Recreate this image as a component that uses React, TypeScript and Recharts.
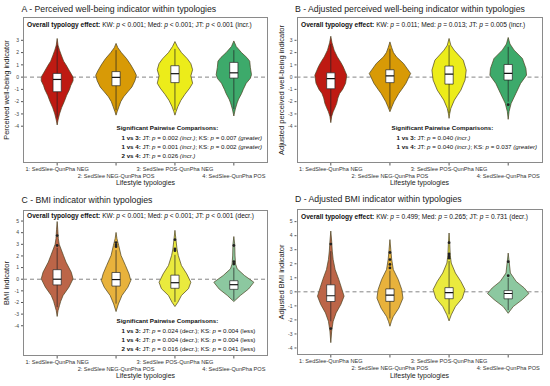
import React from 'react';
import { ComposedChart, Scatter, XAxis, YAxis, ReferenceLine } from 'recharts';

const FONT = '"Liberation Sans", Arial, sans-serif';
const CATS = [1, 2, 3, 4];
const TICK_LABELS = [
  '1: SedSlee-QunPha NEG',
  '2: SedSlee NEG-QunPha POS',
  '3: SedSlee POS-QunPha NEG',
  '4: SedSlee-QunPha POS',
];
const X_DOMAIN: [number, number] = [0.42, 4.58];
const BOX_HALF = 0.07;

const PAL_AB = ['#BE1A12', '#D89A06', '#ECEC1A', '#3DAA6B'];
const PAL_CD = ['#BC6548', '#E8B23C', '#EAEA3E', '#8CC8A0'];

// violin outlines: [value, half width in category units], top -> bottom
const vA1 = [[3.15, 0], [2.6, 0.015], [2.2, 0.04], [1.8, 0.07], [1.3, 0.11], [1, 0.15], [0.5, 0.21], [0, 0.27], [-0.3, 0.27], [-0.7, 0.23], [-1, 0.21], [-1.5, 0.16], [-2, 0.12], [-2.5, 0.075], [-3, 0.04], [-3.5, 0.015], [-3.9, 0]];
const vA2 = [[2.75, 0], [2.4, 0.03], [2.0, 0.09], [1.5, 0.18], [1.0, 0.25], [0.5, 0.31], [0.15, 0.345], [-0.3, 0.32], [-0.8, 0.27], [-1.2, 0.2], [-1.6, 0.13], [-2.0, 0.08], [-2.4, 0.05], [-2.8, 0.02], [-3.1, 0]];
const vA3 = [[2.9, 0], [2.5, 0.04], [2.0, 0.11], [1.5, 0.21], [1.1, 0.27], [0.6, 0.3], [0.1, 0.27], [-0.5, 0.3], [-0.9, 0.25], [-1.4, 0.17], [-1.9, 0.1], [-2.4, 0.05], [-2.8, 0.02], [-3.1, 0]];
const vA4 = [[2.95, 0], [2.5, 0.04], [2.0, 0.13], [1.6, 0.22], [1.3, 0.27], [0.8, 0.28], [0.2, 0.3], [-0.1, 0.28], [-0.5, 0.21], [-1, 0.16], [-1.35, 0.13], [-1.8, 0.08], [-2.1, 0.056], [-2.6, 0.025], [-3.17, 0]];

const vB1 = [[3.33, 0], [2.8, 0.02], [2.2, 0.056], [1.65, 0.11], [1.2, 0.17], [0.84, 0.21], [0.16, 0.27], [-0.5, 0.25], [-1.0, 0.2], [-1.33, 0.15], [-1.7, 0.12], [-2.14, 0.1], [-2.5, 0.07], [-2.82, 0.04], [-3.2, 0.015], [-3.71, 0]];
const vB2 = [[2.87, 0], [2.4, 0.03], [2.0, 0.06], [1.65, 0.11], [1.11, 0.23], [0.3, 0.35], [-0.51, 0.27], [-1.0, 0.2], [-1.33, 0.15], [-2.0, 0.07], [-2.4, 0.035], [-2.82, 0]];
const vB3 = [[3.15, 0], [2.6, 0.03], [2.2, 0.085], [1.8, 0.16], [1.38, 0.24], [0.57, 0.29], [-0.24, 0.27], [-1.06, 0.2], [-1.5, 0.14], [-1.87, 0.09], [-2.55, 0.03], [-3.0, 0.01], [-3.36, 0]];
const vB4 = [[3.23, 0], [2.7, 0.03], [2.2, 0.1], [1.52, 0.24], [0.7, 0.3], [0.16, 0.31], [-0.51, 0.21], [-1.33, 0.13], [-2.14, 0.05], [-2.8, 0.015], [-3.44, 0]];

const vC1 = [[4.96, 0], [4.3, 0.01], [3.5, 0.02], [3, 0.035], [2.6, 0.065], [2.04, 0.107], [1.47, 0.15], [0.6, 0.24], [0.03, 0.27], [-0.68, 0.2], [-1.4, 0.1], [-1.9, 0.06], [-2.26, 0.04], [-2.7, 0.015], [-3.2, 0]];
const vC2 = [[4.02, 0], [3.5, 0.015], [2.9, 0.045], [2.04, 0.085], [1.18, 0.16], [0.46, 0.22], [-0.11, 0.25], [-0.69, 0.2], [-1.4, 0.1], [-2.13, 0.04], [-2.78, 0]];
const vC3 = [[4.2, 0], [3.5, 0.015], [2.6, 0.035], [2.04, 0.057], [1.18, 0.11], [0.46, 0.2], [-0.26, 0.27], [-0.81, 0.23], [-1.4, 0.11], [-1.98, 0.05], [-2.35, 0]];
const vC4 = [[3.67, 0], [3.0, 0.015], [2.0, 0.02], [1.3, 0.03], [0.89, 0.057], [0.32, 0.18], [-0.26, 0.34], [-0.84, 0.25], [-1.4, 0.11], [-1.78, 0.03], [-1.92, 0]];

const vD1 = [[4.33, 0], [3.6, 0.015], [2.9, 0.025], [2.3, 0.04], [1.59, 0.073], [0.88, 0.135], [0.29, 0.18], [-0.31, 0.225], [-0.9, 0.17], [-1.5, 0.09], [-2.1, 0.04], [-2.8, 0.015], [-3.62, 0]];
const vD2 = [[3.72, 0], [3.0, 0.015], [2.3, 0.03], [1.59, 0.057], [0.88, 0.14], [0.16, 0.2], [-0.45, 0.22], [-1.16, 0.15], [-1.76, 0.057], [-2.1, 0.025], [-2.45, 0]];
const vD3 = [[4.19, 0], [3.4, 0.012], [2.6, 0.02], [2.05, 0.037], [1.34, 0.107], [0.74, 0.2], [0.16, 0.27], [-0.45, 0.225], [-1.05, 0.107], [-1.64, 0.037], [-2.07, 0]];
const vD4 = [[2.76, 0], [2.2, 0.015], [1.34, 0.037], [0.74, 0.135], [0.28, 0.27], [-0.12, 0.35], [-0.55, 0.24], [-1.05, 0.085], [-1.3, 0.04], [-1.53, 0]];

// boxes: [q1, median, q3, whisker low, whisker high]
const boxesA = [[-1.19, -0.19, 0.3, -3.3, 2.6], [-0.7, -0.02, 0.45, -2.7, 2.2], [-0.45, 0.28, 0.93, -2.7, 2.3], [-0.08, 0.35, 1.2, -2.6, 2.2]];
const boxesB = [[-0.95, -0.13, 0.35, -3.2, 2.7], [-0.45, 0.1, 0.6, -2.55, 2.3], [-0.57, 0.24, 0.9, -2.95, 2.6], [-0.24, 0.3, 1.03, -2.0, 2.47]];
const boxesC = [[-0.49, 0, 0.82, -2.4, 2.7], [-0.59, -0.03, 0.58, -2.1, 2.5], [-0.78, -0.3, 0.35, -1.95, 2.1], [-0.87, -0.47, -0.13, -1.8, 1.0]];
const boxesD = [[-0.69, -0.28, 0.5, -2.1, 2.9], [-0.68, -0.24, 0.21, -1.9, 1.5], [-0.49, -0.05, 0.3, -1.6, 2.2], [-0.5, -0.12, 0.09, -1.3, 1.0]];

// outliers: [category, value]
const outA: number[][] = [];
const outB = [[4, -2.25]];
const outC = [[1, 3.75], [1, 2.9], [2, 3.15], [2, 2.95], [2, 2.8], [3, 3.4], [3, 2.6], [3, 2.45], [4, 2.9], [4, 1.5], [4, 1.3]];
const outD = [[1, 3.4], [1, -2.62], [2, 2.8], [2, 2.3], [2, 1.95], [2, 1.7], [3, 3.5], [3, 2.7], [3, 2.55], [3, 2.4], [4, 2.15], [4, 1.15]];

const noShape = () => <g />;

function violinPts(pos: number, prof: number[][]) {
  const right = prof.map(([v, w]) => ({ x: pos + w, y: v }));
  const left = prof.slice().reverse().map(([v, w]) => ({ x: pos - w, y: v }));
  return [...right, ...left];
}

function boxPts(pos: number, q1: number, q3: number) {
  return [
    { x: pos - BOX_HALF, y: q3 },
    { x: pos + BOX_HALF, y: q3 },
    { x: pos + BOX_HALF, y: q1 },
    { x: pos - BOX_HALF, y: q1 },
    { x: pos - BOX_HALF, y: q3 },
  ];
}

function renderXTick(props: any) {
  const { x, y, payload } = props;
  const i = payload.value - 1;
  return (
    <text
      x={x}
      y={y + (i % 2 === 0 ? 3.5 : 10.5)}
      textAnchor="middle"
      fontSize={5.6}
      fontFamily={FONT}
      fill="#333"
    >
      {TICK_LABELS[i]}
    </text>
  );
}

interface PanelProps {
  left: number;
  top: number;
  plot: { l: number; r: number; t: number; b: number };
  title: string;
  titleY: number;
  yLabel: string;
  domain: [number, number];
  yTicks: number[];
  violins: number[][][];
  boxes: number[][];
  outliers: number[][];
  palette: string[];
  overall: React.ReactNode;
  overallY: number;
  overallX: number;
  pairs: React.ReactNode[];
}

function Panel(p: PanelProps) {
  const { l, r, t, b } = p.plot;
  return (
    <div style={{ position: 'absolute', left: p.left, top: p.top, width: 275, height: 193 }}>
      <ComposedChart width={275} height={193} margin={{ top: t, right: 275 - r, bottom: 0, left: 0 }}>
        <XAxis
          type="number"
          dataKey="x"
          domain={X_DOMAIN}
          ticks={CATS}
          interval={0}
          allowDataOverflow
          height={193 - b}
          axisLine={false}
          tickSize={2.5}
          tickLine={{ stroke: '#555' }}
          tick={renderXTick}
        />
        <YAxis
          type="number"
          dataKey="y"
          domain={p.domain}
          ticks={p.yTicks}
          interval={0}
          allowDataOverflow
          width={l}
          axisLine={false}
          tickSize={2}
          tickLine={{ stroke: '#555' }}
          tick={{ fontSize: 5, fill: '#444', fontFamily: FONT }}
        />
        <ReferenceLine y={0} stroke="#777" strokeDasharray="4 3" strokeWidth={0.9} />
        {p.violins.map((prof, i) => (
          <Scatter
            key={'v' + i}
            data={violinPts(CATS[i], prof)}
            dataKey="y"
            shape={noShape}
            line={{ fill: p.palette[i], stroke: '#4a4020', strokeWidth: 0.7 }}
            lineJointType="linear"
            isAnimationActive={false}
          />
        ))}
        {p.boxes.map((bx, i) => (
          <Scatter
            key={'w' + i}
            data={[{ x: CATS[i], y: bx[4] }, { x: CATS[i], y: bx[3] }]}
            dataKey="y"
            shape={noShape}
            line={{ stroke: '#222', strokeWidth: 0.7 }}
            isAnimationActive={false}
          />
        ))}
        {p.boxes.map((bx, i) => (
          <Scatter
            key={'b' + i}
            data={boxPts(CATS[i], bx[0], bx[2])}
            dataKey="y"
            shape={noShape}
            line={{ fill: '#fff', stroke: '#222', strokeWidth: 0.7 }}
            isAnimationActive={false}
          />
        ))}
        {p.boxes.map((bx, i) => (
          <Scatter
            key={'m' + i}
            data={[{ x: CATS[i] - BOX_HALF, y: bx[1] }, { x: CATS[i] + BOX_HALF, y: bx[1] }]}
            dataKey="y"
            shape={noShape}
            line={{ stroke: '#111', strokeWidth: 1.2 }}
            isAnimationActive={false}
          />
        ))}
        <Scatter
          data={p.outliers.map(([c, v]) => ({ x: c, y: v }))}
          dataKey="y"
          fill="#222"
          shape={(s: any) => <circle cx={s.cx} cy={s.cy} r={1.4} fill="#222" />}
          isAnimationActive={false}
        />
      </ComposedChart>
      <div
        style={{
          position: 'absolute',
          left: l,
          top: t,
          width: r - l,
          height: b - t,
          border: '1px solid #8a8a8a',
          boxSizing: 'border-box',
          pointerEvents: 'none',
        }}
      />
      <div
        style={{
          position: 'absolute',
          left: l - 1.5,
          top: p.titleY - 6,
          height: 12,
          lineHeight: '12px',
          fontSize: 8.7,
          fontFamily: FONT,
          color: '#222',
          whiteSpace: 'nowrap',
        }}
      >
        {p.title}
      </div>
      <div
        style={{
          position: 'absolute',
          left: p.overallX,
          top: p.overallY - 4.5,
          lineHeight: '9px',
          fontSize: 6.6,
          fontFamily: FONT,
          color: '#111',
          whiteSpace: 'nowrap',
        }}
      >
        {p.overall}
      </div>
      {p.pairs.length > 0 && (
        <div
          style={{
            position: 'absolute',
            left: 116.5,
            top: 128 - 4.65,
            lineHeight: '9.3px',
            fontSize: 6.2,
            fontFamily: FONT,
            color: '#111',
            whiteSpace: 'nowrap',
          }}
        >
          <div style={{ fontWeight: 700 }}>Significant Pairwise Comparisons:</div>
          {p.pairs.map((row, i) => (
            <div key={i} style={{ marginLeft: 5 }}>
              {row}
            </div>
          ))}
        </div>
      )}
      <div
        style={{
          position: 'absolute',
          left: 7 - 100,
          top: (t + b) / 2 - 5,
          width: 200,
          height: 10,
          lineHeight: '10px',
          textAlign: 'center',
          transform: 'rotate(-90deg)',
          fontSize: 7.5,
          fontFamily: FONT,
          color: '#222',
          whiteSpace: 'nowrap',
        }}
      >
        {p.yLabel}
      </div>
      <div
        style={{
          position: 'absolute',
          left: (l + r) / 2 - 60,
          top: 183 - 5,
          width: 120,
          lineHeight: '10px',
          textAlign: 'center',
          fontSize: 7,
          fontFamily: FONT,
          color: '#222',
        }}
      >
        Lifestyle typologies
      </div>
    </div>
  );
}

const ip = <i>p</i>;

export default function App() {
  return (
    <div style={{ position: 'absolute', left: 0, top: 0, width: 550, height: 386, background: '#fff', overflow: 'hidden' }}>
      <Panel
        left={0}
        top={0}
        plot={{ l: 23, r: 268, t: 17, b: 163 }}
        title="A - Perceived well-being indicator within typologies"
        titleY={8.5}
        yLabel="Perceived well-being indicator"
        domain={[-7, 4.9]}
        yTicks={[-4, -3, -2, -1, 0, 1, 2, 3]}
        violins={[vA1, vA2, vA3, vA4]}
        boxes={boxesA}
        outliers={outA}
        palette={PAL_AB}
        overallX={27}
        overallY={24.5}
        overall={<><b>Overall typology effect:</b> KW: {ip} &lt; 0.001; Med: {ip} &lt; 0.001; JT: {ip} &lt; 0.001 (incr.)</>}
        pairs={[
          <><b>1 vs 3:</b> JT: {ip} = 0.002 <i>(incr.)</i>; KS: {ip} = 0.007 <i>(greater)</i></>,
          <><b>1 vs 4:</b> JT: {ip} = 0.001 <i>(incr.)</i>; KS: {ip} = 0.002 <i>(greater)</i></>,
          <><b>2 vs 4:</b> JT: {ip} = 0.026 <i>(incr.)</i></>,
        ]}
      />
      <Panel
        left={275}
        top={0}
        plot={{ l: 21.5, r: 267.5, t: 17, b: 163 }}
        title="B - Adjusted perceived well-being indicator within typologies"
        titleY={8.5}
        yLabel="Adjusted perceived well-being indicator"
        domain={[-7, 4.9]}
        yTicks={[-4, -3, -2, -1, 0, 1, 2, 3]}
        violins={[vB1, vB2, vB3, vB4]}
        boxes={boxesB}
        outliers={outB}
        palette={PAL_AB}
        overallX={26}
        overallY={24}
        overall={<><b>Overall typology effect:</b> KW: {ip} = 0.011; Med: {ip} = 0.013; JT: {ip} = 0.005 (incr.)</>}
        pairs={[
          <><b>1 vs 3:</b> JT: {ip} = 0.040 <i>(incr.)</i></>,
          <><b>1 vs 4:</b> JT: {ip} = 0.040 <i>(incr.)</i>; KS: {ip} = 0.037 <i>(greater)</i></>,
        ]}
      />
      <Panel
        left={0}
        top={193}
        plot={{ l: 23, r: 268, t: 17, b: 163 }}
        title="C - BMI indicator within typologies"
        titleY={6.7}
        yLabel="BMI indicator"
        domain={[-6.6, 5.95]}
        yTicks={[-4, -3, -2, -1, 0, 1, 2, 3, 4, 5]}
        violins={[vC1, vC2, vC3, vC4]}
        boxes={boxesC}
        outliers={outC}
        palette={PAL_CD}
        overallX={27}
        overallY={22.7}
        overall={<><b>Overall typology effect:</b> KW: {ip} &lt; 0.001; Med: {ip} &lt; 0.001; JT: {ip} &lt; 0.001 (decr.)</>}
        pairs={[
          <><b>1 vs 3:</b> JT: {ip} = 0.024 (decr.); KS: {ip} = 0.004 (less)</>,
          <><b>1 vs 4:</b> JT: {ip} = 0.004 (decr.); KS: {ip} = 0.004 (less)</>,
          <><b>2 vs 4:</b> JT: {ip} = 0.016 (decr.); KS: {ip} = 0.041 (less)</>,
        ]}
      />
      <Panel
        left={275}
        top={193}
        plot={{ l: 21.5, r: 267.5, t: 16, b: 162 }}
        title="D - Adjusted BMI indicator within typologies"
        titleY={6}
        yLabel="Adjusted BMI indicator"
        domain={[-4.5, 5.9]}
        yTicks={[-4, -3, -2, -1, 0, 1, 2, 3, 4, 5]}
        violins={[vD1, vD2, vD3, vD4]}
        boxes={boxesD}
        outliers={outD}
        palette={PAL_CD}
        overallX={26}
        overallY={23.3}
        overall={<><b>Overall typology effect:</b> KW: {ip} = 0.499; Med: {ip} = 0.265; JT: {ip} = 0.731 (decr.)</>}
        pairs={[]}
      />
    </div>
  );
}
